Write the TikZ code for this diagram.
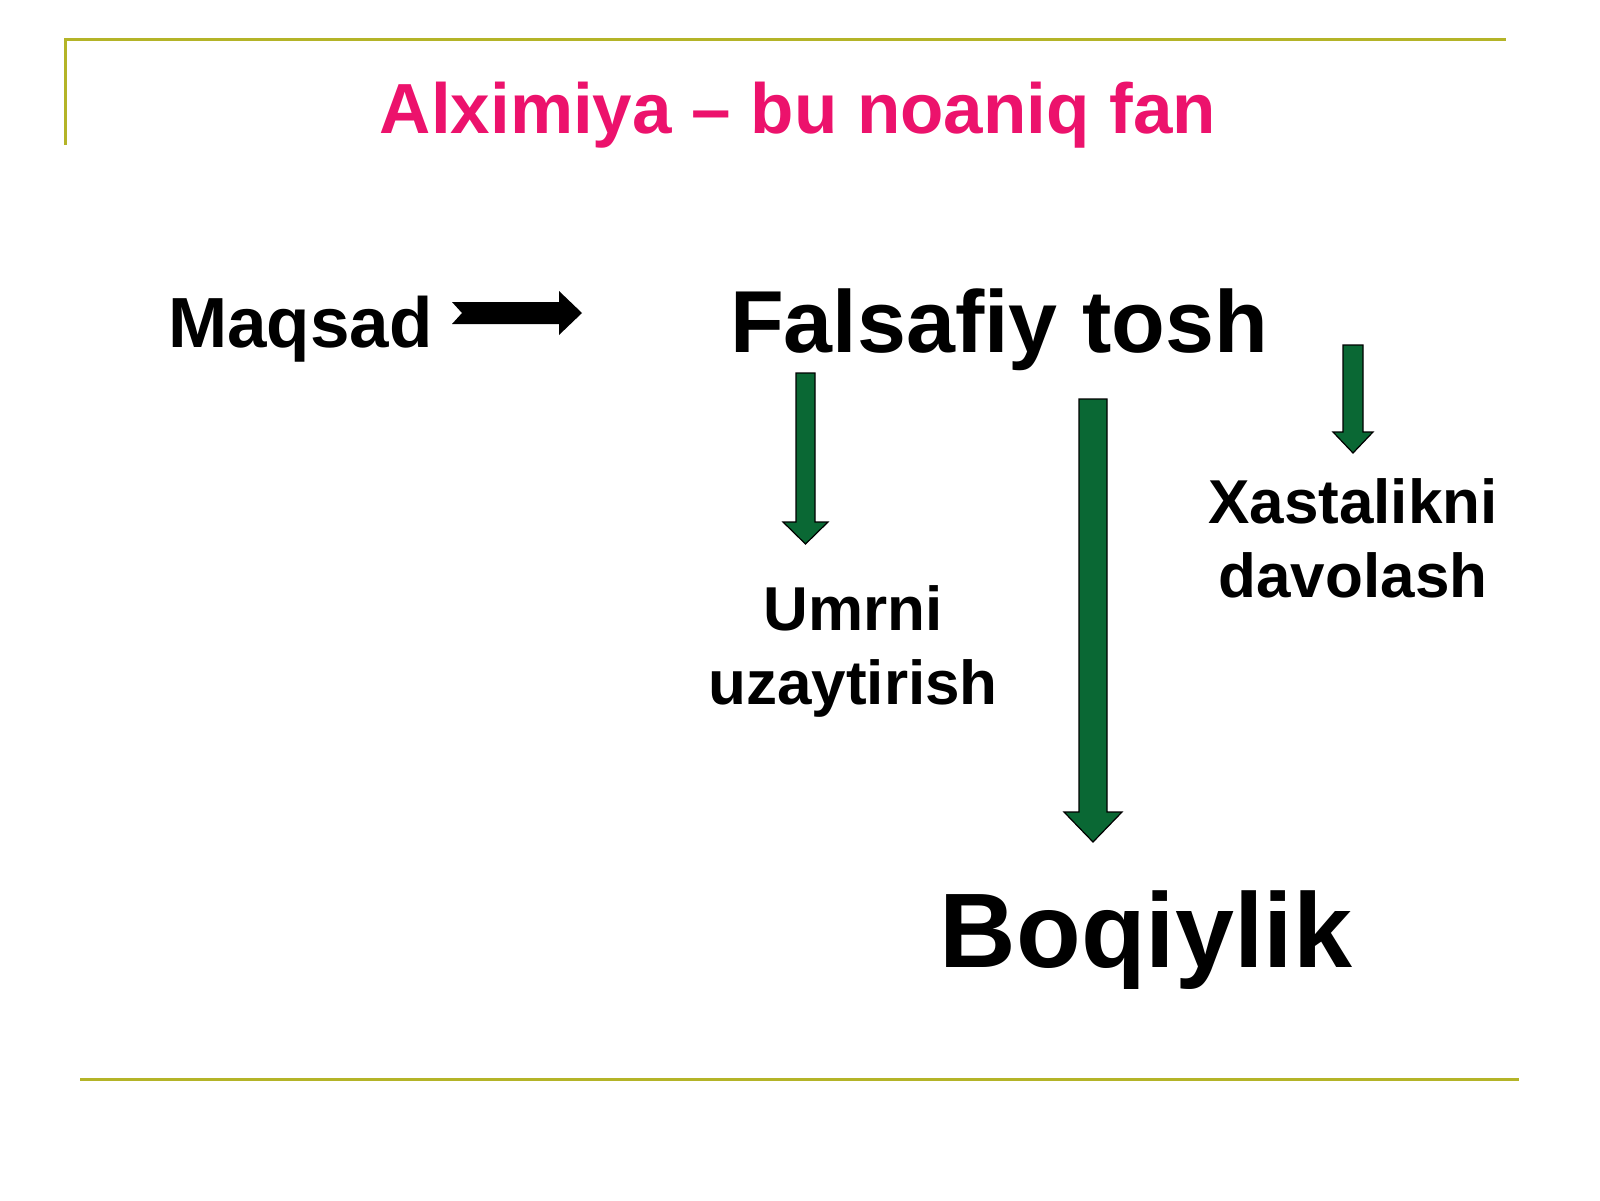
\documentclass[tikz,border=0pt]{standalone}
\usepackage{fontspec}
\setmainfont{Liberation Sans}
\usetikzlibrary{calc}
\definecolor{linegold}{RGB}{180,180,40}
\definecolor{titlepink}{RGB}{236,18,108}
\definecolor{arrowgreen}{RGB}{10,104,52}
\newcommand{\sz}[2]{\bfseries\fontsize{#1}{#2}\selectfont}
% green block arrow pointing down: top, tip, half shaft, half head, head length
\newcommand{\downblock}[5]{%
\filldraw[greenarrow] let \p1=(#1), \p2=(#2) in
  (\x1-#3,\y1) -- (\x1+#3,\y1) -- (\x1+#3,\y2+#5) -- (\x1+#4,\y2+#5) -- (\x2,\y2)
  -- (\x1-#4,\y2+#5) -- (\x1-#3,\y2+#5) -- cycle;}

\begin{document}
\begin{tikzpicture}[x=1pt,y=-1pt,
  rule/.style={draw=linegold,line width=3pt},
  word/.style={inner sep=0pt,anchor=base,align=center},
  greenarrow/.style={fill=arrowgreen,draw=black,line width=1.2pt}]
\useasboundingbox (0,0) rectangle (1600,1200);
\draw[rule] (65,145) -- (65,39) -- (1506,39);
\draw[rule] (80,1079) -- (1519,1079);
\node[word,text=titlepink,font=\sz{71}{85}] (title) at (798,133) {Alximiya – bu noaniq fan};
\node[word,font=\sz{71}{85},anchor=base west] (maqsad) at (168,347) {Maqsad};
\node[word,font=\sz{88}{105}] (tosh) at (999,352) {Falsafiy tosh};
\node[word,font=\sz{62}{73.5}] (umr) at (853,704) {Umrni\\uzaytirish};
\node[word,font=\sz{62}{74}] (xasta) at (1353,597) {Xastalikni\\davolash};
\node[word,font=\sz{106}{126}] (boqiy) at (1146,967) {Boqiylik};
% arrows
\coordinate (m tail) at (452,313);
\coordinate (m tip) at (582,313);
\fill let \p1=(m tail), \p2=(m tip) in
  (\x1,\y1+11pt) -- (\x2-23pt,\y1+11pt) -- (\x2-23pt,\y1+22pt) -- (\x2,\y2)
  -- (\x2-23pt,\y1-22pt) -- (\x2-23pt,\y1-11pt) -- (\x1,\y1-11pt) -- (\x1+10pt,\y1) -- cycle;
\coordinate (u top) at (805.5,373);
\coordinate (u tip) at (805.5,544);
\downblock{u top}{u tip}{9.5pt}{22.5pt}{22pt}
\coordinate (b top) at (1093,399);
\coordinate (b tip) at (1093,842);
\downblock{b top}{b tip}{14pt}{29pt}{30pt}
\coordinate (x top) at (1353,345);
\coordinate (x tip) at (1353,453);
\downblock{x top}{x tip}{10pt}{20pt}{21pt}
\end{tikzpicture}
\end{document}
